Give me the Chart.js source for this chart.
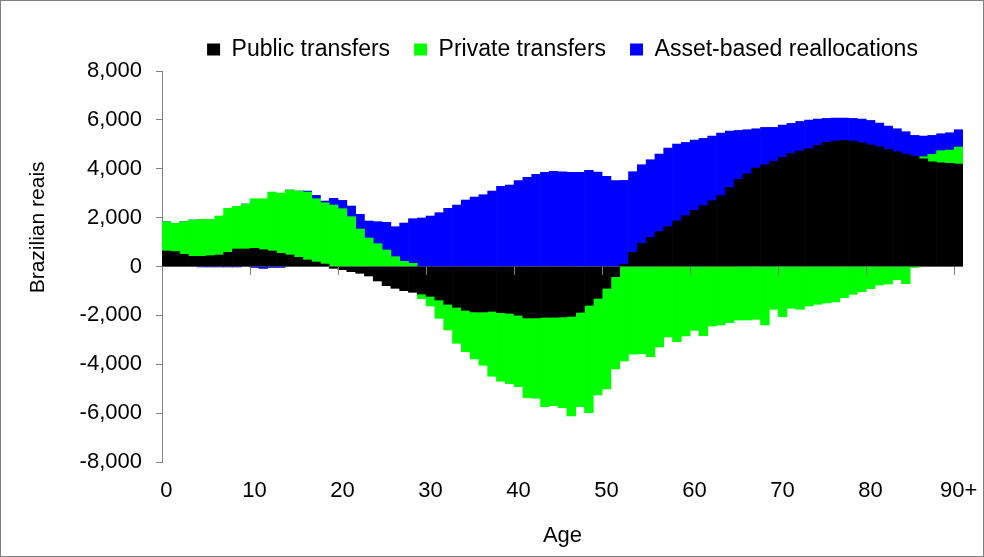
<!DOCTYPE html>
<html>
<head>
<meta charset="utf-8">
<script src="https://cdn.jsdelivr.net/npm/chart.js@4.4.1/dist/chart.umd.min.js"></script>
<style>
  html, body { margin: 0; padding: 0; background: #fff; }
  #wrap { width: 984px; height: 557px; box-sizing: border-box; border: 1px solid #7f7f7f; background: #fff; }
  canvas { display: block; }
</style>
</head>
<body>
<div id="wrap"><canvas id="c" width="982" height="555"></canvas></div>
<script>
const ages = ['0','1','2','3','4','5','6','7','8','9',
  '10','11','12','13','14','15','16','17','18','19',
  '20','21','22','23','24','25','26','27','28','29',
  '30','31','32','33','34','35','36','37','38','39',
  '40','41','42','43','44','45','46','47','48','49',
  '50','51','52','53','54','55','56','57','58','59',
  '60','61','62','63','64','65','66','67','68','69',
  '70','71','72','73','74','75','76','77','78','79',
  '80','81','82','83','84','85','86','87','88','89','90+'];

const publicTransfers = [
  634, 610, 498, 416, 416, 443, 470, 580, 716, 716,
  743, 688, 634, 539, 470, 375, 266, 184, 102, -75,
  -130, -211, -279, -389, -593, -784, -893, -988, -1057, -1125,
  -1220, -1370, -1547, -1670, -1793, -1861, -1861, -1834, -1888, -1915,
  -1997, -2106, -2106, -2079, -2079, -2065, -2038, -1875, -1588, -1302,
  -893, -416, 89, 580, 948, 1193, 1425, 1629, 1861, 2079,
  2300, 2488, 2693, 2897, 3238, 3565, 3797, 4029, 4165, 4301,
  4465, 4629, 4724, 4819, 4956, 5078, 5133, 5160, 5133, 5065,
  4983, 4901, 4792, 4697, 4601, 4519, 4410, 4288, 4247, 4220, 4192];

const privateTransfers = [
  1198, 1157, 1342, 1486, 1514, 1487, 1595, 1800, 1746, 1840,
  2030, 2085, 2413, 2467, 2659, 2713, 2781, 2590, 2509, 2515,
  2365, 2038, 1534, 1166, 934, 675, 402, 211, 130, -190,
  -396, -750, -1050, -1472, -1691, -1922, -2181, -2658, -2808, -2877,
  -2918, -3259, -3286, -3654, -3613, -3709, -4077, -3858, -4390, -3954,
  -4117, -3776, -3865, -3592, -3565, -3688, -3293, -2883, -3074, -2842,
  -2611, -2829, -2434, -2393, -2297, -2188, -2188, -2161, -2393, -1752,
  -2052, -1711, -1752, -1616, -1547, -1493, -1452, -1275, -1139, -1029,
  -907, -757, -716, -539, -702, -40, 82, 300, 491, 545, 696];

const assetReallocations = [
  0, 0, 0, 0, -20, -20, -20, -20, -20, 0,
  -40, -80, -40, -40, 0, 0, 41, 137, 68, 273,
  341, 436, 600, 695, 900, 1131, 1227, 1568, 1826, 1985,
  2065, 2202, 2379, 2515, 2720, 2843, 2938, 3088, 3279, 3333,
  3511, 3647, 3770, 3852, 3892, 3879, 3852, 3852, 3933, 3865,
  3688, 3511, 3435, 3299, 3217, 3176, 3176, 3218, 3149, 2999,
  2874, 2754, 2644, 2563, 2304, 2004, 1800, 1608, 1527, 1391,
  1322, 1227, 1213, 1173, 1077, 982, 941, 914, 927, 968,
  995, 968, 954, 940, 914, 846, 845, 777, 695, 709, 709];

const seriesNames = ['Public transfers', 'Private transfers', 'Asset-based reallocations'];
const seriesColors = ['#000000', '#00ff00', '#0000ff'];
const yTicks = [-8000, -6000, -4000, -2000, 0, 2000, 4000, 6000, 8000];
const xLabelEvery = 10;
const yTitleText = 'Brazilian reais';
const xTitleText = 'Age';

const FONT = "'Liberation Sans', Arial, Helvetica, sans-serif";
const axisGray = '#808080';
const clear = 'rgba(0,0,0,0)';

// y-axis title, drawn rotated beside the axis (placed a little above the plot centre, as in the original)
const yTitlePlugin = {
  id: 'yTitle',
  afterDraw(chart) {
    const ctx = chart.ctx;
    const area = chart.chartArea;
    ctx.save();
    ctx.translate(37, area.top + (area.bottom - area.top) * 0.40);
    ctx.rotate(-Math.PI / 2);
    ctx.font = "21px " + FONT;
    ctx.fillStyle = '#000';
    ctx.textAlign = 'center';
    ctx.textBaseline = 'middle';
    ctx.fillText(yTitleText, 0, 0);
    ctx.restore();
  }
};

const mk = (i, data) => ({
  label: seriesNames[i],
  data: data,
  backgroundColor: seriesColors[i],
  borderWidth: 0,
  barPercentage: 1.0,
  categoryPercentage: 1.0,
  xAxisID: 'x',
  yAxisID: 'y'
});

new Chart(document.getElementById('c'), {
  type: 'bar',
  data: {
    labels: ages,
    datasets: [mk(0, publicTransfers), mk(1, privateTransfers), mk(2, assetReallocations)]
  },
  plugins: [yTitlePlugin],
  options: {
    responsive: false,
    animation: false,
    devicePixelRatio: 1,
    layout: { padding: { top: 9, left: 24, right: 20, bottom: 0 } },
    plugins: {
      tooltip: { enabled: false },
      title: { display: false },
      legend: {
        display: true,
        position: 'top',
        fullSize: false,
        labels: {
          color: '#000',
          font: { family: FONT, size: 23 },
          boxWidth: 13,
          boxHeight: 12,
          padding: 24
        }
      }
    },
    scales: {
      x: {
        type: 'category',
        position: 'bottom',
        stacked: true,
        offset: true,
        grid: { display: false, drawTicks: false, offset: true },
        border: { display: false },
        ticks: {
          autoSkip: false,
          maxRotation: 0,
          minRotation: 0,
          padding: 16,
          color: '#000',
          font: { family: FONT, size: 22 },
          callback: function (v, i) { return i % xLabelEvery === 0 ? ages[i] : ''; }
        },
        title: {
          display: true,
          text: xTitleText,
          color: '#000',
          font: { family: FONT, size: 22 },
          padding: { top: 0, bottom: 7 }
        },
        afterFit: function (s) { s.height = 94; s.paddingLeft = 0; s.paddingRight = 0; }
      },
      x2: {
        type: 'category',
        position: { y: 0 },
        offset: true,
        grid: {
          z: 1,
          offset: true,
          drawOnChartArea: false,
          drawTicks: true,
          tickLength: 8,
          lineWidth: 1,
          color: function (ctx) {
            return (ctx.index !== undefined && ctx.index > 0 && ctx.index % xLabelEvery === 0) ? axisGray : clear;
          },
          tickColor: function (ctx) {
            return (ctx.index !== undefined && ctx.index > 0 && ctx.index % xLabelEvery === 0) ? axisGray : clear;
          }
        },
        border: { display: false },
        ticks: { display: false },
        afterFit: function (s) { s.paddingLeft = 0; s.paddingRight = 0; }
      },
      y: {
        type: 'linear',
        position: 'left',
        stacked: true,
        min: yTicks[0],
        max: yTicks[yTicks.length - 1],
        afterBuildTicks: function (s) { s.ticks = yTicks.map(v => ({ value: v })); },
        grid: {
          drawOnChartArea: true,
          drawTicks: true,
          tickLength: 6,
          color: function (ctx) { return (ctx.tick && ctx.tick.value === 0) ? axisGray : clear; },
          tickColor: axisGray
        },
        border: { display: true, color: axisGray, width: 1 },
        ticks: {
          padding: 14,
          color: '#000',
          font: { family: FONT, size: 22 },
          callback: function (v) { return Number(v).toLocaleString('en-US'); }
        },
        title: { display: false },
        afterFit: function (s) { s.width = 137; s.paddingTop = 70; }
      }
    }
  }
});
</script>
</body>
</html>
